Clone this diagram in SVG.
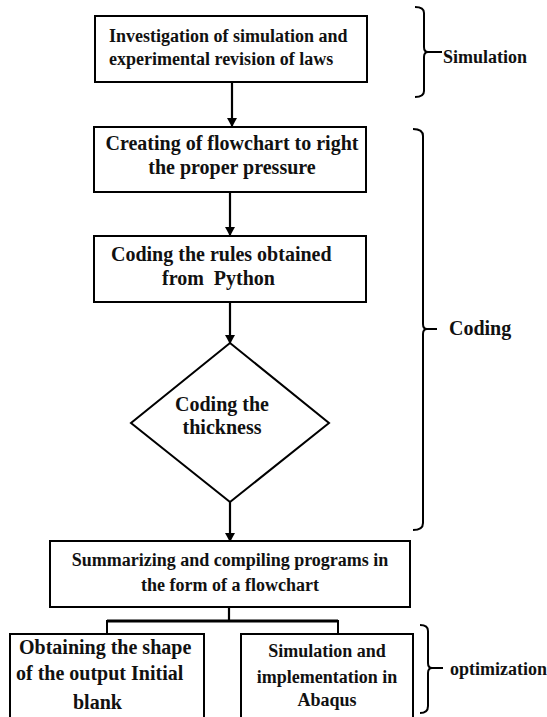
<svg xmlns="http://www.w3.org/2000/svg" width="547" height="717" viewBox="0 0 547 717">
<style>
.box{fill:#fff;stroke:#000;stroke-width:2}
.t{font-family:"Liberation Serif","Times New Roman",serif;font-weight:bold;fill:#111}
.s18{font-size:18px}
.s20{font-size:20px}
.c{text-anchor:middle}
.ln{fill:none;stroke:#000;stroke-width:2.2}
.br{fill:none;stroke:#000;stroke-width:2}
</style>
<defs>
<marker id="ah" markerWidth="10" markerHeight="10" refX="8" refY="5" orient="auto" markerUnits="userSpaceOnUse">
<path d="M0,0 L9,5 L0,10 Z" fill="#000"/>
</marker>
</defs>
<rect width="547" height="717" fill="#fff"/>

<g id="connectors">
<line class="ln" x1="232" y1="82" x2="232" y2="126" marker-end="url(#ah)"/>
<line class="ln" x1="230" y1="192" x2="230" y2="235" marker-end="url(#ah)"/>
<line class="ln" x1="230" y1="302" x2="230" y2="343" marker-end="url(#ah)"/>
<line class="ln" x1="230" y1="502" x2="230" y2="541" marker-end="url(#ah)"/>
<path class="ln" d="M229,607 V621"/>
<path d="M107,634 V621 H338 V634" fill="none" stroke="#000" stroke-width="2"/>
<line x1="107" y1="621" x2="338" y2="621" stroke="#000" stroke-width="3"/>
</g>

<g id="n1">
<rect class="box" x="95" y="16" width="272" height="66"/>
<text class="t s18" x="109" y="42">Investigation of simulation and</text>
<text class="t s18" x="109" y="65">experimental revision of laws</text>
</g>

<g id="n2">
<rect class="box" x="94" y="127" width="272" height="65"/>
<text class="t s20 c" x="232" y="150">Creating of flowchart to right</text>
<text class="t s20 c" x="232" y="174">the proper pressure</text>
</g>

<g id="n3">
<rect class="box" x="94" y="236" width="272" height="66"/>
<text class="t s20" x="111" y="261">Coding the rules obtained</text>
<text class="t s20" x="162" y="285" xml:space="preserve">from  Python</text>
</g>

<g id="n4">
<polygon class="box" points="230,343 329,423 230,502 131,423"/>
<text class="t s20 c" x="222" y="411">Coding the</text>
<text class="t s20 c" x="222" y="434">thickness</text>
</g>

<g id="n5">
<rect class="box" x="50" y="541" width="360" height="66"/>
<text class="t s18 c" x="230" y="566">Summarizing and compiling programs in</text>
<text class="t s18 c" x="230" y="591">the form of a flowchart</text>
</g>

<g id="n6">
<rect class="box" x="10" y="634" width="194" height="95"/>
<text class="t s20" x="19" y="654">Obtaining the shape</text>
<text class="t s20" x="16" y="680">of the output Initial</text>
<text class="t s20" x="73" y="709">blank</text>
</g>

<g id="n7">
<rect class="box" x="241" y="634" width="172" height="95"/>
<text class="t s18 c" x="327" y="657">Simulation and</text>
<text class="t s18 c" x="327" y="683">implementation in</text>
<text class="t s18 c" x="327" y="706">Abaqus</text>
</g>

<g id="brace-simulation">
<path class="br" d="M415,7 Q424,7 424,13 V47 Q424,52 428,52 Q424,52 424,57 V91 Q424,97 415,97"/>
<line class="br" x1="426" y1="52" x2="442" y2="52"/>
<text class="t s18" x="443" y="63">Simulation</text>
</g>

<g id="brace-coding">
<path class="br" d="M413,129 Q423,129 423,136 V324 Q423,329 427,329 Q423,329 423,334 V523 Q423,530 413,530"/>
<line class="br" x1="425" y1="329" x2="437" y2="329"/>
<text class="t s20" x="449" y="335">Coding</text>
</g>

<g id="brace-optimization">
<path class="br" d="M420,625 Q428,625 428,631 V663 Q428,668 432,668 Q428,668 428,673 V706 Q428,713 420,713"/>
<line class="br" x1="430" y1="668" x2="443" y2="668"/>
<text class="t s18" x="450" y="675">optimization</text>
</g>
</svg>
